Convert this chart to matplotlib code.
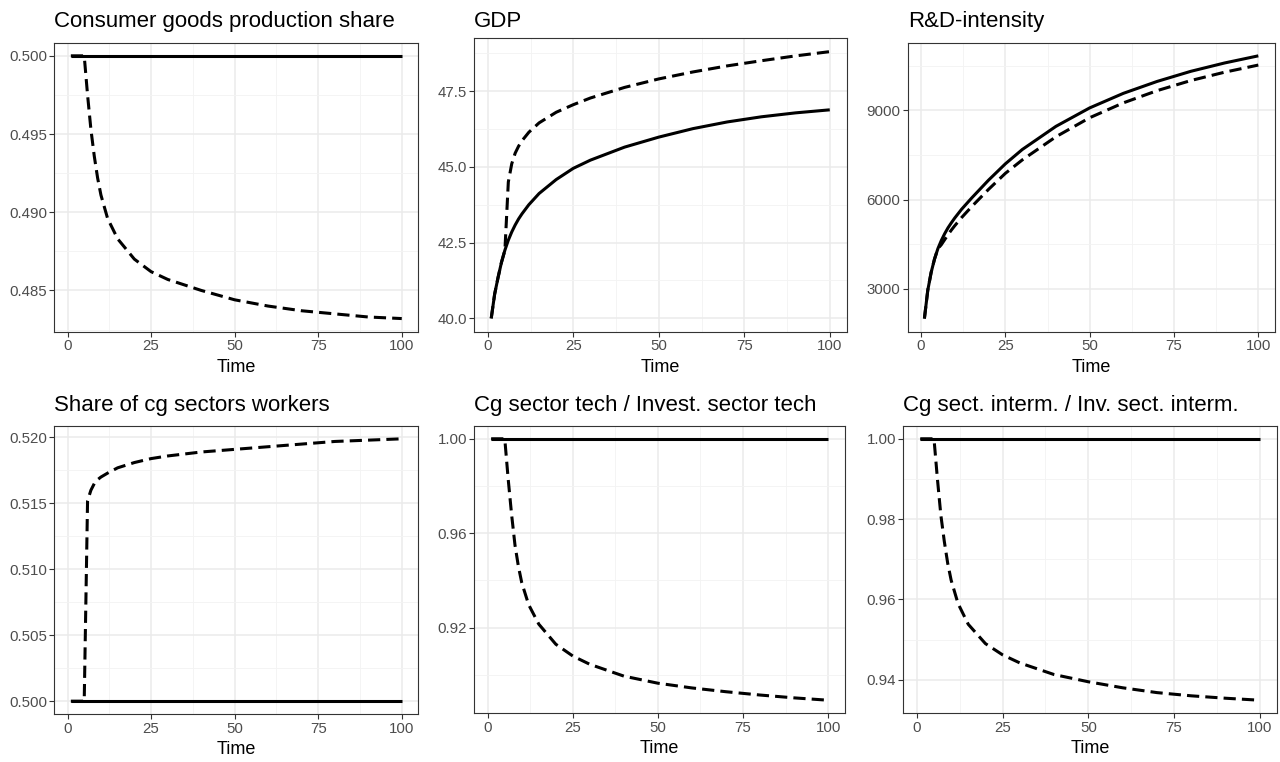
import matplotlib
matplotlib.use("Agg")
import matplotlib.pyplot as plt
from matplotlib.ticker import AutoMinorLocator, FixedLocator, FormatStrFormatter

plt.rcParams["font.family"] = ["Liberation Sans", "DejaVu Sans"]

time = [1, 2, 3, 4, 5, 6, 7, 8, 9, 10, 12, 15, 20, 25, 30, 40, 50, 60, 70, 80, 90, 100]

cg_share_base = [0.5, 0.5, 0.5, 0.5, 0.5, 0.5, 0.5, 0.5, 0.5, 0.5, 0.5,
                 0.5, 0.5, 0.5, 0.5, 0.5, 0.5, 0.5, 0.5, 0.5, 0.5, 0.5]
cg_share_shock = [0.5, 0.5, 0.5, 0.5, 0.5, 0.4975, 0.4953, 0.4936, 0.4922, 0.4911, 0.4896,
                  0.4883, 0.4870, 0.4862, 0.4857, 0.4850, 0.4844, 0.4840, 0.4837, 0.4835,
                  0.4833, 0.4832]

gdp_base = [40.0, 40.8, 41.35, 41.85, 42.25, 42.58, 42.85, 43.08, 43.28, 43.45, 43.75,
            44.12, 44.58, 44.95, 45.22, 45.65, 45.98, 46.26, 46.48, 46.65, 46.78, 46.88]
gdp_shock = [40.0, 40.8, 41.35, 41.85, 42.25, 44.5, 45.1, 45.45, 45.68, 45.86, 46.14,
             46.45, 46.8, 47.05, 47.27, 47.62, 47.9, 48.13, 48.33, 48.5, 48.66, 48.8]

rd_base = [2000, 2950, 3550, 4000, 4350, 4620, 4850, 5050, 5220, 5380, 5670,
           6050, 6650, 7200, 7680, 8460, 9080, 9570, 9970, 10310, 10590, 10830]
rd_shock = [2000, 2950, 3550, 4000, 4350, 4480, 4650, 4820, 4975, 5120, 5390,
            5760, 6340, 6880, 7330, 8110, 8750, 9250, 9660, 10000, 10280, 10520]

workers_base = [0.5, 0.5, 0.5, 0.5, 0.5, 0.5, 0.5, 0.5, 0.5, 0.5, 0.5,
                0.5, 0.5, 0.5, 0.5, 0.5, 0.5, 0.5, 0.5, 0.5, 0.5, 0.5]
workers_shock = [0.5, 0.5, 0.5, 0.5, 0.5, 0.5152, 0.5160, 0.5165, 0.5168, 0.5170, 0.5173,
                 0.5177, 0.5181, 0.5184, 0.5186, 0.5189, 0.5191, 0.5193, 0.5195, 0.5197,
                 0.5198, 0.5199]

tech_base = [1.0, 1.0, 1.0, 1.0, 1.0, 1.0, 1.0, 1.0, 1.0, 1.0, 1.0,
             1.0, 1.0, 1.0, 1.0, 1.0, 1.0, 1.0, 1.0, 1.0, 1.0, 1.0]
tech_shock = [1.0, 1.0, 1.0, 1.0, 1.0, 0.983, 0.968, 0.955, 0.946, 0.939, 0.9298,
              0.9215, 0.9130, 0.9080, 0.9045, 0.8995, 0.8965, 0.8945, 0.8929, 0.8915,
              0.8903, 0.8893]

interm_base = [1.0, 1.0, 1.0, 1.0, 1.0, 1.0, 1.0, 1.0, 1.0, 1.0, 1.0,
               1.0, 1.0, 1.0, 1.0, 1.0, 1.0, 1.0, 1.0, 1.0, 1.0, 1.0]
interm_shock = [1.0, 1.0, 1.0, 1.0, 1.0, 0.990, 0.981, 0.9745, 0.969, 0.9648, 0.9590,
                0.9538, 0.9490, 0.9462, 0.9442, 0.9413, 0.9395, 0.9380, 0.9368, 0.9360,
                0.9354, 0.9349]

titles = ["Consumer goods production share", "GDP", "R&D-intensity",
          "Share of cg sectors workers", "Cg sector tech / Invest. sector tech",
          "Cg sect. interm. / Inv. sect. interm."]
yticks = [[0.485, 0.490, 0.495, 0.500], [40.0, 42.5, 45.0, 47.5], [3000, 6000, 9000],
          [0.500, 0.505, 0.510, 0.515, 0.520], [0.92, 0.96, 1.00], [0.94, 0.96, 0.98, 1.00]]
yfmt = ["%.3f", "%.1f", "%d", "%.3f", "%.2f", "%.2f"]
series = [(cg_share_base, cg_share_shock), (gdp_base, gdp_shock), (rd_base, rd_shock),
          (workers_base, workers_shock), (tech_base, tech_shock), (interm_base, interm_shock)]

W, H = 1280, 762
# panel boxes in pixels: left, right, top, bottom
boxes = [(54.3, 418.3, 42.7, 331.7), (474.3, 846.7, 38.3, 331.7), (907.7, 1275, 42.7, 331.7),
         (54.3, 418.3, 425.7, 714.3), (474.3, 845, 425.7, 713.3), (903.3, 1276.7, 425.7, 713.3)]
title_baseline = [27.3, 27.3, 27.3, 410.7, 410.7, 410.7]

fig = plt.figure(figsize=(12.8, 7.62), dpi=100)

for i in range(6):
    l, r, t, b = boxes[i]
    ax = fig.add_axes([l / W, 1 - b / H, (r - l) / W, (b - t) / H])
    base, shock = series[i]
    ax.plot(time, shock, color="black", lw=2.2, linestyle=(0, (4.0, 2.0)),
            dash_capstyle="butt", zorder=3)
    ax.plot(time, base, color="black", lw=2.2, solid_capstyle="butt", zorder=4)
    ax.margins(x=0.05, y=0.05)

    ax.set_xticks([0, 25, 50, 75, 100])
    ax.xaxis.set_minor_locator(FixedLocator([12.5, 37.5, 62.5, 87.5]))
    ax.yaxis.set_major_locator(FixedLocator(yticks[i]))
    ax.yaxis.set_major_formatter(FormatStrFormatter(yfmt[i]))
    ax.yaxis.set_minor_locator(AutoMinorLocator(2))

    ax.grid(which="major", color="#EBEBEB", lw=1.1, zorder=0)
    ax.grid(which="minor", color="#F3F3F3", lw=0.6, zorder=0)
    ax.set_axisbelow(True)
    ax.tick_params(which="major", length=3.3, width=0.8, color="#333333",
                   labelsize=10.8, labelcolor="#4D4D4D", pad=2)
    ax.tick_params(which="minor", length=0)
    for s in ax.spines.values():
        s.set_color("#333333")
        s.set_linewidth(0.8)

    ax.set_xlabel("Time", fontsize=13, color="black", labelpad=4)
    ax.set_title(titles[i], loc="left", fontsize=16, color="black",
                 pad=(t - title_baseline[i]) * 0.72)

fig.savefig("out.png", dpi=100)
